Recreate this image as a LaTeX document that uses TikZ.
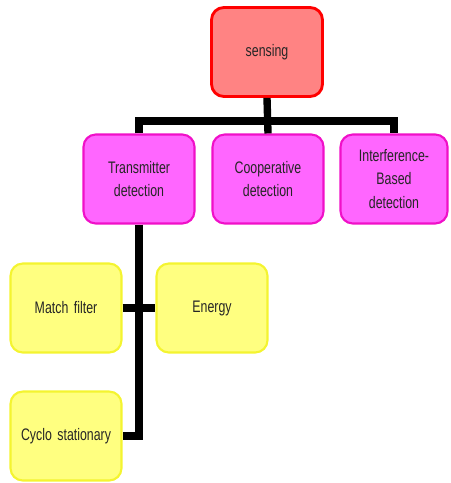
\documentclass[tikz,border=0pt]{standalone}
\usepackage{fontspec}
\setmainfont{Liberation Sans}[FakeStretch=0.74]
\usepackage{xcolor}
\usepackage{tikz}
\definecolor{rosso}{HTML}{FF8383}
\definecolor{rossob}{HTML}{FF0000}
\definecolor{viola}{HTML}{FF66FF}
\definecolor{violab}{HTML}{F010C8}
\definecolor{giallo}{HTML}{FFFF80}
\definecolor{giallob}{HTML}{F4F430}
\tikzset{
  box/.style={rounded corners=7pt, minimum width=2.22cm, minimum height=1.78cm,
    align=center, text width=1.9cm, font=\fontsize{9.5}{13.5}\selectfont, text=black!85},
  radice/.style={box, fill=rosso, draw=rossob, line width=1.6pt},
  ramo/.style={box, fill=viola, draw=violab, line width=1.2pt},
  foglia/.style={box, fill=giallo, draw=giallob, line width=1.2pt},
  conn/.style={line width=4.2pt, black}
}
\begin{document}
\begin{tikzpicture}[x=0.02cm, y=-0.02cm]
\useasboundingbox (0,0) rectangle (450,483);
% radice
\node (sensing) at (267,52) [radice] {sensing};

% livello 1
\node (trans) at (139,179) [ramo] {Transmitter\\detection};
\node (coop) at (268,179) [ramo] {Cooperative\\detection};
\node (interf) at (394,179) [ramo, minimum width=2.14cm] {Interference-\\Based\\detection};

% livello 2
\node (match) at (66,308) [foglia] {Match filter};
\node (energy) at (212,308) [foglia] {Energy\vphantom{M}};
\node (cyclo) at (66,436) [foglia] {Cyclo stationary};

% collegamenti
\coordinate (bar) at (267,121);
\draw[conn] (sensing.south) -- (coop.north);
\draw[conn] (trans.north) |- (bar) -| (interf.north);
\draw[conn] (trans.south) |- (cyclo.east);
\draw[conn] (match.east) -- (energy.west);
\end{tikzpicture}
\end{document}
